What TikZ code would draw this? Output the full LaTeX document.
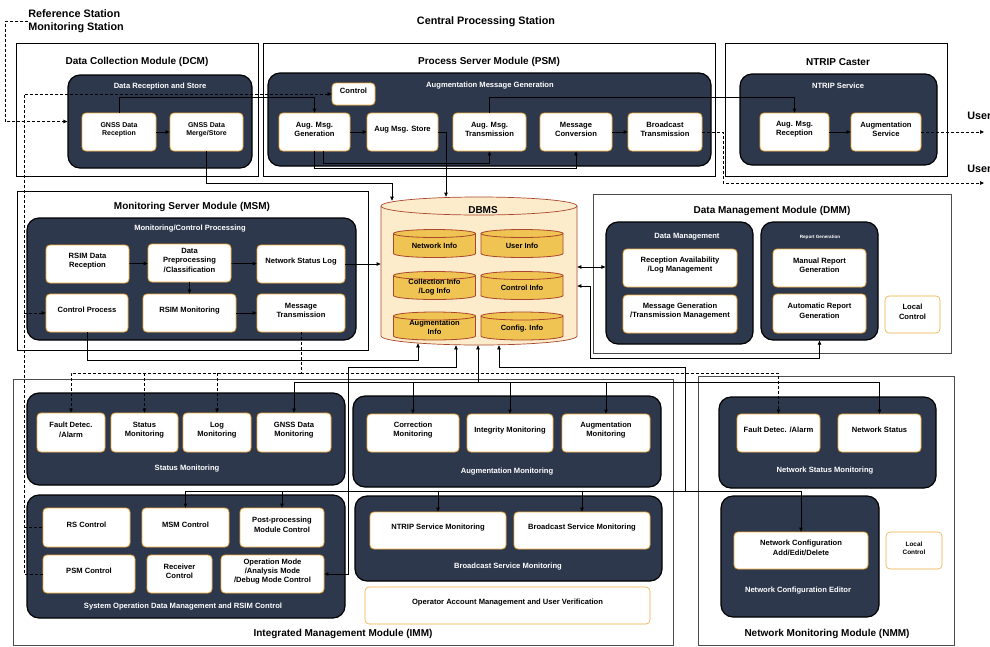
\documentclass[tikz,border=0pt]{standalone}
\usepackage{fontspec}
\setmainfont{Liberation Sans}
\usetikzlibrary{arrows.meta,fit}
\definecolor{panelblue}{RGB}{46,56,76}
\definecolor{boxorange}{RGB}{240,172,62}
\definecolor{dbfill}{RGB}{252,236,204}
\definecolor{dbline}{RGB}{170,70,45}
\definecolor{cellfill}{RGB}{240,196,82}
\newcommand\bxfont{\fontsize{7.6}{9.2}\selectfont\bfseries}
\newcommand\smfont{\fontsize{7}{8.4}\selectfont\bfseries}
\newcommand\ptfont{\fontsize{7.6}{9}\selectfont\bfseries}
\newcommand\mtfont{\fontsize{10}{12}\selectfont\bfseries}
\newcommand\hdfont{\fontsize{10.8}{13}\selectfont\bfseries}
\newcommand\cellfont{\fontsize{7.5}{8.6}\selectfont\bfseries}
\tikzset{
  module/.style={draw=black,line width=1pt,inner sep=0pt},
  module2/.style={draw=black!70,line width=0.8pt,inner sep=0pt},
  panel/.style={draw=black,line width=1.2pt,fill=panelblue,rounded corners=12pt,inner sep=0pt},
  box/.style={draw=boxorange,line width=0.8pt,fill=white,rounded corners=4pt,inner sep=0pt,align=center,font=\bxfont},
  lbox/.style={box,line width=0.6pt},
  head/.style={font=\hdfont,inner sep=0pt},
  mtitle/.style={font=\mtfont,inner sep=0pt},
  ptitle/.style={font=\ptfont,text=white,inner sep=0pt},
  dbshape/.style={draw=dbline,fill=dbfill,line width=0.7pt},
  cellshape/.style={draw=dbline,fill=cellfill,line width=0.8pt},
  celltext/.style={inner sep=0pt,align=center,font=\cellfont},
  dsh/.style={dash pattern=on 3pt off 2pt}
}
\begin{document}
\begin{tikzpicture}[x=1pt,y=-1pt,>={Triangle[length=4pt,width=3.5pt]},line width=0.7pt]
\useasboundingbox (0,0) rectangle (990,646);

\node[head,anchor=west,align=left] (rsms) at (28,21.5) {Reference Station\\Monitoring Station};
\node[head] (cps) at (486,22) {Central Processing Station};
\node[head,anchor=west] (usr1) at (967,116) {User};
\node[head,anchor=west] (usr2) at (967,169) {User};
\coordinate (u1) at (984,132);
\coordinate (u2) at (984,183);

% DCM
\node[module,fit={(16,43) (258,176)}] (dcm) {};
\node[mtitle] (dcmt) at (137,62) {Data Collection Module (DCM)};
\node[panel,fit={(68,75) (252,168)}] (drsp) {};
\node[ptitle] (drst) at (160,87) {Data Reception and Store};
\node[box,font=\smfont,fit={(82,113) (156,151)}] (gdr) {GNSS Data\\Reception};
\node[box,font=\smfont,fit={(170,113) (243,151)}] (gdm) {GNSS Data\\Merge/Store};

% PSM
\node[module,fit={(263,43) (715,176)}] (psm) {};
\node[mtitle] (psmt) at (489,62) {Process Server Module (PSM)};
\node[panel,fit={(268,73) (711,166)}] (amgp) {};
\node[ptitle] (amgt) at (490,86) {Augmentation Message Generation};
\node[box,fit={(332,83) (375,105)}] (ctrl) {Control};
\node[box,fit={(279,113) (350,151)}] (amg) {Aug. Msg.\\Generation};
\node[box,fit={(367,113) (438,151)}] (ams) {Aug Msg. Store};
\node[box,fit={(453,113) (526,151)}] (amt) {Aug. Msg.\\Transmission};
\node[box,fit={(540,113) (612,151)}] (mcv) {Message\\Conversion};
\node[box,fit={(628,113) (702,151)}] (bct) {Broadcast\\Transmission};

% NTRIP
\node[module,fit={(725,43) (947,176)}] (ntc) {};
\node[mtitle] (ntct) at (838,62) {NTRIP Caster};
\node[panel,fit={(740,74) (937,165)}] (ntsp) {};
\node[ptitle] (ntst) at (838,86) {NTRIP Service};
\node[box,fit={(760,113) (829,151)}] (amr) {Aug. Msg.\\Reception};
\node[box,fit={(851,113) (921,151)}] (ags) {Augmentation\\Service};

% MSM
\node[module,fit={(17,191) (368,350)}] (msm) {};
\node[mtitle] (msmt) at (192,207) {Monitoring Server Module (MSM)};
\node[panel,fit={(27,218) (356,340)}] (mcpp) {};
\node[ptitle] (mcpt) at (190,229) {Monitoring/Control Processing};
\node[box,fit={(46,245) (129,283)}] (rdr) {RSIM Data\\Reception};
\node[box,fit={(148,244) (231,282)}] (dpc) {Data\\Preprocessing\\/Classification};
\node[box,fit={(257,245) (345,283)}] (nsl) {Network Status Log};
\node[box,fit={(46,294) (128,332)}] (cpr) {Control Process};
\node[box,fit={(143,294) (236,332)}] (rsm) {RSIM Monitoring};
\node[box,fit={(257,294) (345,332)}] (mtx) {Message\\Transmission};

% DBMS
\node[inner sep=0pt,fit={(381,197) (577,345)}] (dbms) {};
\draw[dbshape] (381,206) -- (381,336) .. controls (381,341) and (424.9,345) .. (479,345)
  .. controls (533.1,345) and (577,341) .. (577,336) -- (577,206)
  .. controls (577,201) and (533.1,197) .. (479,197)
  .. controls (424.9,197) and (381,201) .. (381,206) -- cycle;
\draw[dbshape,fill=none] (381,206) .. controls (381,211) and (424.9,215) .. (479,215)
  .. controls (533.1,215) and (577,211) .. (577,206);
\node[mtitle] (dbmst) at (483,210) {DBMS};
\foreach \cx/\cy in {434.5/243.5,522/243.5,434.5/285.5,522/285.5,434.5/326,522/326}{
  \draw[cellshape] (\cx-41,\cy-10) -- (\cx-41,\cy+10)
    .. controls (\cx-41,\cy+12.2) and (\cx-22.6,\cy+14) .. (\cx,\cy+14)
    .. controls (\cx+22.6,\cy+14) and (\cx+41,\cy+12.2) .. (\cx+41,\cy+10) -- (\cx+41,\cy-10)
    .. controls (\cx+41,\cy-12.2) and (\cx+22.6,\cy-14) .. (\cx,\cy-14)
    .. controls (\cx-22.6,\cy-14) and (\cx-41,\cy-12.2) .. (\cx-41,\cy-10) -- cycle;
  \draw[cellshape,fill=none] (\cx-41,\cy-10) .. controls (\cx-41,\cy-7.8) and (\cx-22.6,\cy-6) .. (\cx,\cy-6)
    .. controls (\cx+22.6,\cy-6) and (\cx+41,\cy-7.8) .. (\cx+41,\cy-10);
}
\node[celltext] (nwi) at (434.5,246) {Network Info};
\node[celltext] (usi) at (522,246) {User Info};
\node[celltext] (cli) at (434.5,287) {Collection Info\\/Log Info};
\node[celltext] (cti) at (522,288) {Control Info};
\node[celltext] (aui) at (434.5,327.5) {Augmentation\\Info};
\node[celltext] (cfi) at (522,328.5) {Config. Info};

% DMM
\node[module2,fit={(593,194) (951,353)}] (dmm) {};
\node[mtitle] (dmmt) at (772,211) {Data Management Module (DMM)};
\node[panel,fit={(606,222) (753,344)}] (dmp) {};
\node[ptitle] (dmt) at (687,237) {Data Management};
\node[box,fit={(623,249) (737,287)}] (ral) {Reception Availability\\/Log Management};
\node[box,fit={(623,295) (737,333)}] (mgt) {Message Generation\\/Transmission Management};
\node[panel,fit={(761,222) (878,340)}] (rgp) {};
\node[ptitle,font=\fontsize{4.6}{5}\selectfont\bfseries] (rgt) at (820,237) {Report Generation};
\node[box,fit={(773,249) (866,287)}] (mrg) {Manual Report\\Generation};
\node[box,fit={(773,294) (866,333)}] (arg) {Automatic Report\\Generation};
\node[lbox,fit={(885,296) (940,333)}] (lcd) {Local\\Control};

% IMM
\node[module2,fit={(13,379) (673,645)}] (imm) {};
\node[mtitle] (immt) at (343,634) {Integrated Management Module (IMM)};
\node[panel,fit={(27,393) (345,485)}] (smp) {};
\node[ptitle] (smt) at (187,469) {Status Monitoring};
\node[box,fit={(37,413) (105,452)}] (fda) {Fault Detec.\\/Alarm};
\node[box,fit={(111,413) (178,452)}] (stm) {Status\\Monitoring};
\node[box,fit={(183,413) (251,452)}] (lgm) {Log\\Monitoring};
\node[box,fit={(257,413) (331,452)}] (gdmo) {GNSS Data\\Monitoring};
\node[panel,fit={(27,495) (345,618)}] (sop) {};
\node[ptitle] (sot) at (183,607) {System Operation Data Management and RSIM Control};
\node[box,fit={(43,508) (130,547)}] (rsc) {RS Control};
\node[box,fit={(142,508) (229,547)}] (msc) {MSM Control};
\node[box,fit={(240,508) (324,547)}] (ppc) {Post-processing\\Module Control};
\node[box,fit={(43,555) (135,593)}] (psc) {PSM Control};
\node[box,fit={(147,555) (212,593)}] (rcc) {Receiver\\Control};
\node[box,fit={(221,555) (324,593)}] (omc) {Operation Mode\\/Analysis Mode\\/Debug Mode Control};
\node[panel,fit={(353,396) (661,487)}] (amp) {};
\node[ptitle] (amtt) at (507,472) {Augmentation Monitoring};
\node[box,fit={(367,414) (459,452)}] (crm) {Correction\\Monitoring};
\node[box,fit={(467,414) (553,452)}] (itm) {Integrity Monitoring};
\node[box,fit={(562,414) (650,452)}] (agm) {Augmentation\\Monitoring};
\node[panel,fit={(355,496) (662,581)}] (bsp) {};
\node[ptitle] (bst) at (508,567) {Broadcast Service Monitoring};
\node[box,fit={(370,512) (506,549)}] (nsm) {NTRIP Service Monitoring};
\node[box,fit={(514,512) (650,549)}] (bsm) {Broadcast Service Monitoring};
\node[lbox,fit={(365,587) (650,624)}] (oam) {Operator Account Management and User Verification};

% NMM
\node[module2,fit={(698,376) (954,645)}] (nmm) {};
\node[mtitle] (nmmt) at (827,634) {Network Monitoring Module (NMM)};
\node[panel,fit={(719,397) (936,488)}] (nsp) {};
\node[ptitle] (nspt) at (825,471) {Network Status Monitoring};
\node[box,fit={(737,414) (820,452)}] (nfa) {Fault Detec. /Alarm};
\node[box,fit={(838,414) (921,452)}] (nst) {Network Status};
\node[panel,fit={(721,496) (879,617)}] (ncp) {};
\node[ptitle] (ncpt) at (798,591) {Network Configuration Editor};
\node[box,fit={(734,532) (868,569)}] (nca) {Network Configuration\\Add/Edit/Delete};
\node[lbox,font=\fontsize{6.4}{7.6}\selectfont\bfseries,fit={(886,532) (942,569)}] (lcn) {Local\\Control};

% connectors
\draw[dsh,->] (rsms.west) -- ++(-23,0) |- (drsp.west);
\coordinate (lbus) at (24,94);
\draw[dsh,->] (psc.west) -| (lbus) -- (ctrl.west);
\draw[dsh,->] (lbus |- cpr.west) -- (cpr.west);
\draw[dsh] (lbus |- rsc.west) -- (rsc.west);
\draw[->] (gdr) -- (gdm);
\draw[->] (gdr.north) -- ++(0,-15) -| (amg.north);
\draw[->] (gdm.south) -- ++(0,32) -| ([xshift=-87pt,yshift=-4pt]dbms.north);
\draw[->] (amg) -- (ams);
\draw[->] (mcv) -- (bct);
\draw[->] (amr) -- (ags);
\draw[->] (amt.north) -- ++(0,-15) -| (amr.north);
\draw[->] ([xshift=8.5pt]amg.south) -- ++(0,12) -| (amt.south);
\draw[->] (amg.south) -- ++(0,17) -| (mcv.south);
\draw[->] (ams.east) -| ([xshift=-33pt]dbms.north);
\draw[dsh,->] (bct.east) -- ++(21,0) |- (u2);
\draw[dsh,->] (ags.east) -- (u1);

\draw[->] (rdr) -- (dpc);
\draw[->] (dpc) -- (nsl);
\draw[->] (dpc) -- (rsm);
\draw[->] (rsm) -- (mtx);
\draw[->] (nsl.east) -- (nsl.east -| dbms.west);
\draw[->] (cpr.south) -- ++(0,28) -| ([xshift=-61pt,yshift=2pt]dbms.south);

\draw[dsh] (mtx.south) -- ++(0,41) coordinate (dbus);
\draw[dsh,->] (dbus) -| (fda.north);
\draw[dsh,->] (dbus) -| (nfa.north);
\foreach \n in {stm,lgm}
  \draw[dsh,->] (dbus -| \n.north) -- (\n.north);

\coordinate (sbus) at (478,382);
\draw[->] (sbus) -- ([xshift=-1pt]dbms.south);
\draw[->] (sbus) -| (gdmo.north);
\draw[->] (sbus) -| (nst.north);
\foreach \n in {crm,itm,agm}
  \draw[->] (sbus -| \n.north) -- (\n.north);

\coordinate (j1) at (348,367);
\draw[<->] (omc.east) -| (j1) -| ([xshift=-23pt]dbms.south);
\coordinate (cbus) at (685,491);
\draw[->] (cbus) |- (499,367) -- ([xshift=20pt]dbms.south);
\draw[->] (cbus) -| (msc.north);
\draw[->] (cbus) -| (nca.north);
\foreach \n in {ppc,nsm,bsm}
  \draw[->] (cbus -| \n.north) -- (\n.north);

\draw[<->] ([yshift=4pt]dbms.east) -- ([yshift=4pt]dbms.east -| dmp.west);
\coordinate (j2) at (590,358);
\draw[<->] ([yshift=-15pt]dbms.east) -| (j2) -| (rgp.south);

\end{tikzpicture}
\end{document}
